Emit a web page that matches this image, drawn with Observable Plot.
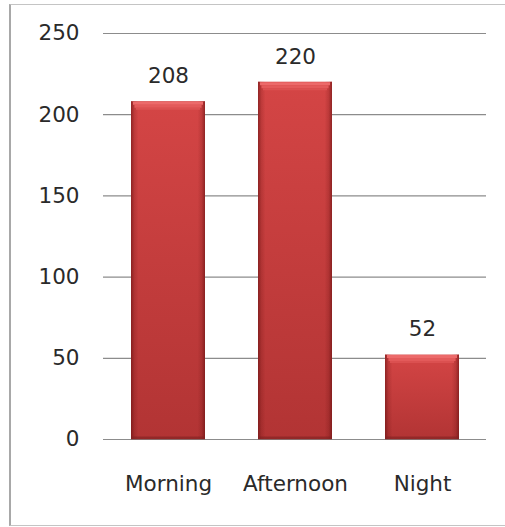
<!DOCTYPE html>
<html>
<head>
<meta charset="utf-8">
<script src="https://cdn.jsdelivr.net/npm/d3@7"></script>
<script src="https://cdn.jsdelivr.net/npm/@observablehq/plot@0.6"></script>
<style>
  html, body { margin: 0; padding: 0; background: #fff; }
  #chart { position: relative; width: 505px; height: 527px; overflow: hidden; }
  #frame {
    position: absolute; left: 9px; top: 4px; width: 520px; height: 522px;
    box-sizing: border-box;
    border-left: 2px solid #a8a8a8; border-top: 1px solid #c4c4c4; border-bottom: 1px solid #c4c4c4;
  }
  #chart svg { position: absolute; left: 0; top: 0; }
</style>
</head>
<body>
<div id="chart"><div id="frame"></div></div>
<script>
// Counts by time of day
const periods = ["Morning", "Afternoon", "Night"];
const counts = [208, 220, 52];
const yTicks = [0, 50, 100, 150, 200, 250];

const rows = periods.map((period, i) => ({period, count: counts[i]}));

const font = "'DejaVu Sans', sans-serif";
const textColor = "#2a2a2a";

const chart = Plot.plot({
  width: 505,
  height: 527,
  marginLeft: 103,
  marginRight: 19,
  marginTop: 33,
  marginBottom: 88,
  style: {fontFamily: font, fontSize: "21.5px", color: textColor, background: "transparent"},
  x: {domain: periods, paddingInner: 0.42, paddingOuter: 0.21, label: null, tickSize: 0, tickPadding: 36},
  y: {domain: [0, 250], ticks: yTicks, label: null, tickSize: 0, tickPadding: 24},
  marks: [
    // horizontal gridlines
    Plot.ruleY(yTicks, {stroke: "#8c8c8c", strokeWidth: 1.2}),
    // bar body with a vertical shade
    Plot.barY(rows, {x: "period", y: "count", fill: "url(#barBody)"}),
    // darker side edges of the bevel
    Plot.barY(rows, {x: "period", y: "count", fill: "url(#barSides)"}),
    // light top face of the bevel, fading into the body
    Plot.tickY(rows, {x: "period", y: "count", dy: 1.5, stroke: "#ec6a6a", strokeWidth: 3, insetLeft: 2, insetRight: 2}),
    Plot.tickY(rows, {x: "period", y: "count", dy: 4.5, stroke: "#e35a5a", strokeWidth: 3, insetLeft: 3.5, insetRight: 3.5}),
    Plot.tickY(rows, {x: "period", y: "count", dy: 7, stroke: "#db5050", strokeWidth: 2, insetLeft: 5, insetRight: 5}),
    // dark base edge
    Plot.tickY(rows, {x: "period", y: 0, dy: -1.5, stroke: "#7e2222", strokeOpacity: 0.6, strokeWidth: 3}),
    // value labels
    Plot.text(rows, {x: "period", y: "count", text: d => String(d.count), dy: -25.5, fill: textColor, fontSize: 21.5, fontFamily: font})
  ]
});

// gradients used by the bar fills
const ns = "http://www.w3.org/2000/svg";
const defs = document.createElementNS(ns, "defs");
defs.innerHTML = `
  <linearGradient id="barBody" x1="0" y1="0" x2="0" y2="1">
    <stop offset="0" stop-color="#d44545"/>
    <stop offset="1" stop-color="#b23434"/>
  </linearGradient>
  <linearGradient id="barSides" x1="0" y1="0" x2="1" y2="0">
    <stop offset="0" stop-color="#5a0a0a" stop-opacity="0.55"/>
    <stop offset="0.045" stop-color="#5a0a0a" stop-opacity="0.18"/>
    <stop offset="0.1" stop-color="#5a0a0a" stop-opacity="0"/>
    <stop offset="0.9" stop-color="#5a0a0a" stop-opacity="0"/>
    <stop offset="0.955" stop-color="#5a0a0a" stop-opacity="0.18"/>
    <stop offset="1" stop-color="#5a0a0a" stop-opacity="0.55"/>
  </linearGradient>`;
chart.insertBefore(defs, chart.firstChild);

document.getElementById("chart").appendChild(chart);
</script>
</body>
</html>
